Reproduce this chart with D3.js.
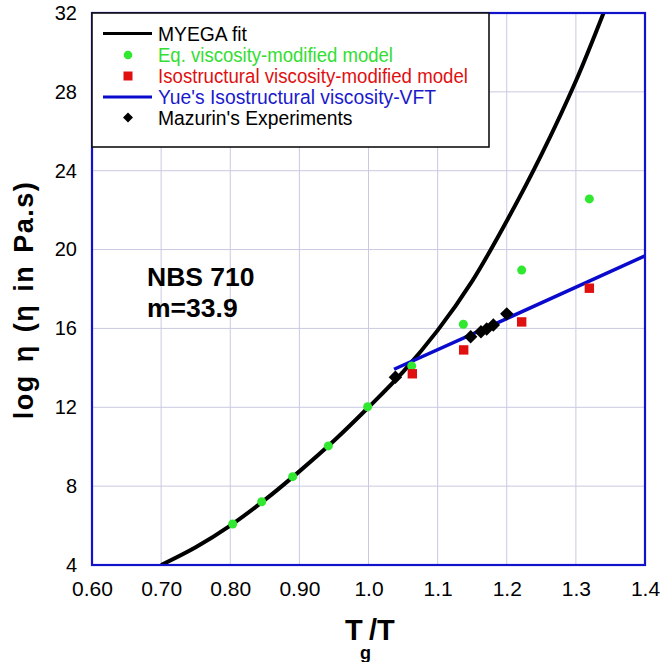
<!DOCTYPE html>
<html>
<head>
<meta charset="utf-8">
<script src="https://cdn.jsdelivr.net/npm/d3@7"></script>
<style>
html,body{margin:0;padding:0;background:#fff;}
svg{display:block;font-family:"Liberation Sans",Arial,sans-serif;}
</style>
</head>
<body>
<svg id="chart" width="660" height="662"></svg>
<script>
// ---- data ----
const xTickValues = [0.6, 0.7, 0.8, 0.9, 1.0, 1.1, 1.2, 1.3, 1.4];
const xTickLabels = ["0.60", "0.70", "0.80", "0.90", "1.0", "1.1", "1.2", "1.3", "1.4"];
const yTickValues = [4, 8, 12, 16, 20, 24, 28, 32];
const yTickLabels = ["4", "8", "12", "16", "20", "24", "28", "32"];

// MYEGA fit curve
const myegaX = [0.70, 0.75, 0.80, 0.85, 0.90, 0.95, 1.00, 1.05, 1.10, 1.15, 1.20, 1.25, 1.30, 1.34];
const myegaY = [4.0, 4.9, 6.0, 7.3, 8.75, 10.3, 12.0, 13.8, 15.9, 18.4, 21.45, 24.8, 28.55, 32.0];

// Eq. viscosity-modified model
const eqX = [0.8035, 0.8455, 0.8903, 0.9419, 0.9988, 1.0625, 1.1372, 1.2216, 1.3195];
const eqY = [6.08, 7.21, 8.48, 10.04, 12.03, 14.10, 16.21, 18.96, 22.57];

// Isostructural viscosity-modified model
const isoX = [1.0634, 1.1377, 1.2216, 1.3195];
const isoY = [13.70, 14.91, 16.33, 18.04];

// Yue's isostructural viscosity - VFT
const yueX = [1.037, 1.20, 1.40];
const yueY = [13.93, 16.50, 19.68];

// Mazurin's experiments
const mazX = [1.0389, 1.1478, 1.1627, 1.1710, 1.1806, 1.2000];
const mazY = [13.52, 15.58, 15.83, 15.97, 16.17, 16.74];

const seriesNames = ["MYEGA fit", "Eq. viscosity-modified model", "Isostructural viscosity-modified model", "Yue's Isostructural viscosity-VFT", "Mazurin's Experiments"];

// ---- drawing ----
const svg = d3.select("#chart");
const L = 92, R = 645, T = 13, B = 565;
const x = d3.scaleLinear().domain([0.6, 1.4]).range([L, R]);
const y = d3.scaleLinear().domain([4, 32]).range([B, T]);

const GREEN = "#30e830", RED = "#e01010", BLUE = "#0a0acc";

// grid
const grid = svg.append("g");
grid.selectAll("line.v").data(xTickValues.slice(1, -1)).enter().append("line")
  .attr("x1", d => x(d)).attr("x2", d => x(d)).attr("y1", T).attr("y2", B)
  .attr("stroke", "#c9c9e2").attr("stroke-width", 1);
grid.selectAll("line.h").data(yTickValues.slice(1, -1)).enter().append("line")
  .attr("x1", L).attr("x2", R).attr("y1", d => y(d)).attr("y2", d => y(d))
  .attr("stroke", "#c9c9e2").attr("stroke-width", 1);

// axes (labels only)
const xAxis = d3.axisBottom(x).tickValues(xTickValues).tickSize(0).tickPadding(0)
  .tickFormat((d, i) => xTickLabels[i]);
const gx = svg.append("g").attr("transform", `translate(0,${B})`).call(xAxis);
gx.select(".domain").remove();
gx.selectAll("text").attr("font-size", 21).attr("fill", "#000")
  .attr("font-family", "Liberation Sans, Arial, sans-serif")
  .attr("dy", null).attr("y", 31);

const yAxis = d3.axisLeft(y).tickValues(yTickValues).tickSize(0).tickPadding(15)
  .tickFormat((d, i) => yTickLabels[i]);
const gy = svg.append("g").attr("transform", `translate(${L},0)`).call(yAxis);
gy.select(".domain").remove();
gy.selectAll("text").attr("font-size", 20).attr("fill", "#000")
  .attr("font-family", "Liberation Sans, Arial, sans-serif");

// clip
svg.append("clipPath").attr("id", "clip").append("rect")
  .attr("x", L).attr("y", T).attr("width", R - L).attr("height", B - T);
const plot = svg.append("g").attr("clip-path", "url(#clip)");

const line = d3.line().x(d => x(d[0])).y(d => y(d[1])).curve(d3.curveCatmullRom.alpha(0.5));

plot.append("path").datum(myegaX.map((v, i) => [v, myegaY[i]]))
  .attr("d", line).attr("fill", "none").attr("stroke", "#000").attr("stroke-width", 4);

plot.append("path").datum(yueX.map((v, i) => [v, yueY[i]]))
  .attr("d", d3.line().x(d => x(d[0])).y(d => y(d[1])))
  .attr("fill", "none").attr("stroke", BLUE).attr("stroke-width", 3.5);

plot.selectAll("circle.eq").data(eqX.map((v, i) => [v, eqY[i]])).enter().append("circle")
  .attr("cx", d => x(d[0])).attr("cy", d => y(d[1])).attr("r", 4.5).attr("fill", GREEN);

plot.selectAll("rect.iso").data(isoX.map((v, i) => [v, isoY[i]])).enter().append("rect")
  .attr("x", d => x(d[0]) - 4.7).attr("y", d => y(d[1]) - 4.7)
  .attr("width", 9.4).attr("height", 9.4).attr("fill", RED);

const diamond = d3.symbol().type(d3.symbolSquare).size(90);
plot.selectAll("path.maz").data(mazX.map((v, i) => [v, mazY[i]])).enter().append("path")
  .attr("d", diamond).attr("fill", "#000")
  .attr("transform", d => `translate(${x(d[0])},${y(d[1])}) rotate(45)`);

// frame
svg.append("rect").attr("x", L).attr("y", T).attr("width", R - L).attr("height", B - T)
  .attr("fill", "none").attr("stroke", "#1212cc").attr("stroke-width", 2.2);

// legend
const lg = svg.append("g");
lg.append("rect").attr("x", L).attr("y", T).attr("width", 489 - L).attr("height", 147 - T)
  .attr("fill", "#fff").attr("stroke", "#111").attr("stroke-width", 1.6);
const rowY = [33.5, 55, 76, 97, 117.5];
const symX = 128, textX = 158;
lg.append("line").attr("x1", 103).attr("x2", 152).attr("y1", rowY[0]).attr("y2", rowY[0])
  .attr("stroke", "#000").attr("stroke-width", 2.8);
lg.append("circle").attr("cx", symX).attr("cy", rowY[1]).attr("r", 4.3).attr("fill", GREEN);
lg.append("rect").attr("x", symX - 4.5).attr("y", rowY[2] - 4.5).attr("width", 9).attr("height", 9).attr("fill", RED);
lg.append("line").attr("x1", 103).attr("x2", 152).attr("y1", rowY[3]).attr("y2", rowY[3])
  .attr("stroke", BLUE).attr("stroke-width", 2.8);
lg.append("path").attr("d", d3.symbol().type(d3.symbolSquare).size(50))
  .attr("transform", `translate(${symX},${rowY[4]}) rotate(45)`).attr("fill", "#000");

const legColors = ["#000", "#33dd33", "#e01010", "#1a1acc", "#000"];
const legWidths = [null, 235, 310, null, null];
seriesNames.forEach((name, i) => {
  const t = lg.append("text").attr("x", textX).attr("y", rowY[i] + 7)
    .attr("font-size", 19.3).attr("fill", legColors[i]).text(name);
  if (legWidths[i]) t.attr("textLength", legWidths[i]).attr("lengthAdjust", "spacingAndGlyphs");
});

// annotation
svg.append("text").attr("x", 147).attr("y", 286).attr("font-size", 26.5).attr("font-weight", "bold").text("NBS 710");
svg.append("text").attr("x", 147).attr("y", 317).attr("font-size", 26.5).attr("font-weight", "bold").text("m=33.9");

// axis titles
svg.append("text").attr("transform", `translate(33,300) rotate(-90)`)
  .attr("text-anchor", "middle").attr("font-size", 27).attr("font-weight", "bold")
  .attr("letter-spacing", 1.5).attr("word-spacing", 3)
  .text("log η (η in Pa.s)");

svg.append("text").attr("x", 345).attr("y", 640).attr("font-size", 29).attr("font-weight", "bold").text("T");
svg.append("text").attr("x", 360).attr("y", 659).attr("font-size", 18).attr("font-weight", "bold").text("g");
svg.append("text").attr("x", 369).attr("y", 640).attr("font-size", 29).attr("font-weight", "bold").text("/T");
</script>
</body>
</html>
